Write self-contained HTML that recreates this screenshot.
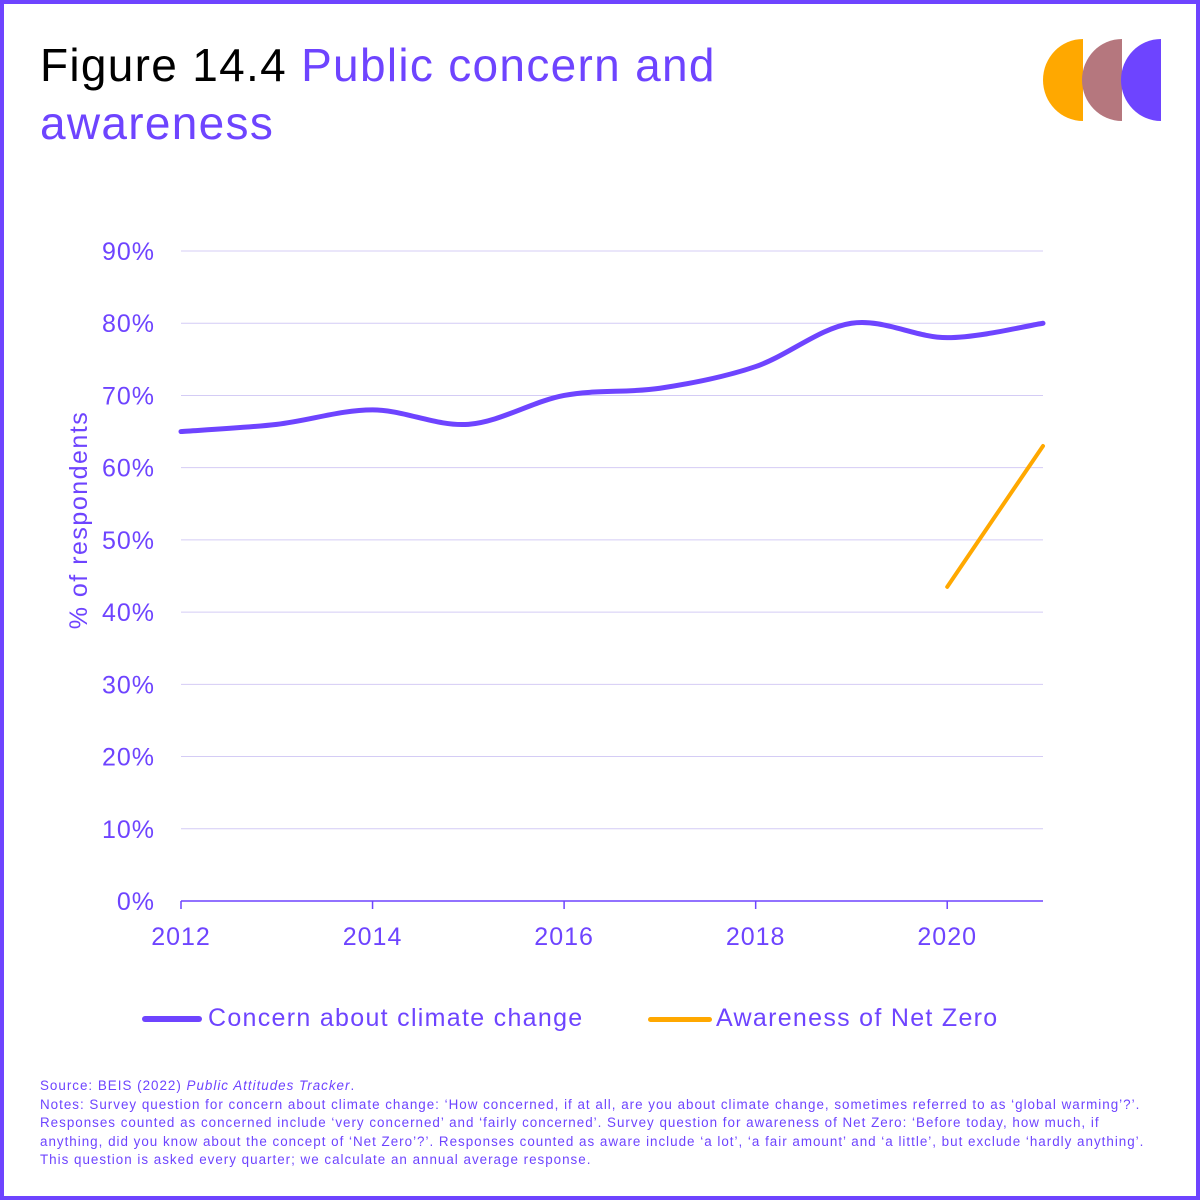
<!DOCTYPE html>
<html><head><meta charset="utf-8"><style>
body{margin:0;width:1200px;height:1200px;overflow:hidden;background:#fff;font-family:"Liberation Sans",sans-serif}
#frame{position:absolute;left:0;top:0;width:1192px;height:1192px;border:4px solid #6e44ff}
.t{position:absolute;color:#6e44ff}
</style></head><body>
<div id="frame"></div>
<div class="t" style="left:40px;top:36px;font-size:46px;line-height:58px;width:800px;letter-spacing:1.3px"><span style="color:#000">Figure 14.4</span> Public concern and<br>awareness</div>
<svg style="position:absolute;left:1040px;top:38px" width="125" height="84">
<path d="M43 1 A40 41 0 0 0 43 83 Z" fill="#ffa800"/>
<path d="M82 1 A40 41 0 0 0 82 83 Z" fill="#b5777e"/>
<path d="M121 1 A40 41 0 0 0 121 83 Z" fill="#6e44ff"/>
</svg>
<svg id="chart" style="position:absolute;left:0;top:0" width="1200" height="1060"></svg>
<div class="t" style="left:142px;top:1004px;font-size:25px;letter-spacing:1.3px"><span style="display:inline-block;width:60px;height:6px;background:#6e44ff;vertical-align:middle;margin-right:6px;border-radius:3px"></span>Concern about climate change</div>
<div class="t" style="left:648px;top:1004px;font-size:25px;letter-spacing:1.3px"><span style="display:inline-block;width:64px;height:5px;background:#ffa800;vertical-align:middle;margin-right:4px;border-radius:3px"></span>Awareness of Net Zero</div>
<div class="t" style="left:40px;top:1077px;font-size:13.4px;line-height:18.6px;width:1150px;letter-spacing:1px">Source: BEIS (2022) <i>Public Attitudes Tracker</i>.<br>Notes: Survey question for concern about climate change: ‘How concerned, if at all, are you about climate change, sometimes referred to as ‘global warming’?’.<br>Responses counted as concerned include ‘very concerned’ and ‘fairly concerned’. Survey question for awareness of Net Zero: ‘Before today, how much, if<br>anything, did you know about the concept of ‘Net Zero’?’. Responses counted as aware include ‘a lot’, ‘a fair amount’ and ‘a little’, but exclude ‘hardly anything’.<br>This question is asked every quarter; we calculate an annual average response.</div>
<script>
const years=[2012,2013,2014,2015,2016,2017,2018,2019,2020,2021];
const concern=[65,66,68,66,70,71,74,80,78,80];
const awareYears=[2020,2021];
const awareness=[43.5,63];
const yTicks=[0,10,20,30,40,50,60,70,80,90];
const xTicks=[2012,2014,2016,2018,2020];
const svg=document.getElementById('chart');const NS='http://www.w3.org/2000/svg';
const x=v=>181+(v-2012)*(1043-181)/9;
const y=v=>901-v*(901-251)/90;
function el(t,a,txt){const e=document.createElementNS(NS,t);for(const k in a)e.setAttribute(k,a[k]);if(txt!=null)e.textContent=txt;svg.appendChild(e);return e;}
yTicks.forEach(v=>{
const g=el('line',{x1:181,x2:1043,y1:y(v),y2:y(v),stroke:v===0?'#6e44ff':'#d4ccf5','stroke-width':v===0?1.5:1});


const l=el('text',{x:155,y:y(v)+9,'text-anchor':'end','font-size':25,fill:'#6e44ff','font-family':'Liberation Sans','letter-spacing':1},v+'%');


});
xTicks.forEach(v=>{
const t=el('line',{x1:x(v),x2:x(v),y1:901,y2:909,stroke:'#6e44ff','stroke-width':1.5});


const l=el('text',{x:x(v),y:945,'text-anchor':'middle','font-size':25,fill:'#6e44ff','font-family':'Liberation Sans','letter-spacing':1},v);


});
const yt=el('text',{x:0,y:0,transform:'translate(87,520) rotate(-90)','text-anchor':'middle','font-size':25,fill:'#6e44ff','font-family':'Liberation Sans','letter-spacing':1.5},'% of respondents');


function smooth(xs,ys){const p=xs.map((v,i)=>[x(v),y(ys[i])]);let d='M'+p[0][0]+' '+p[0][1];
for(let i=0;i<p.length-1;i++){const p0=p[i-1]||p[i],p1=p[i],p2=p[i+1],p3=p[i+2]||p2;
const c1=[p1[0]+(p2[0]-p0[0])/6,p1[1]+(p2[1]-p0[1])/6],c2=[p2[0]-(p3[0]-p1[0])/6,p2[1]-(p3[1]-p1[1])/6];
d+=` C${c1[0]} ${c1[1]} ${c2[0]} ${c2[1]} ${p2[0]} ${p2[1]}`;}return d;}
const l1=el('path',{d:smooth(years,concern),fill:'none',stroke:'#6e44ff','stroke-width':5,'stroke-linecap':'round'});


const l2=el('path',{d:smooth(awareYears,awareness),fill:'none',stroke:'#ffa800','stroke-width':4,'stroke-linecap':'round'});


</script>
</body></html>
